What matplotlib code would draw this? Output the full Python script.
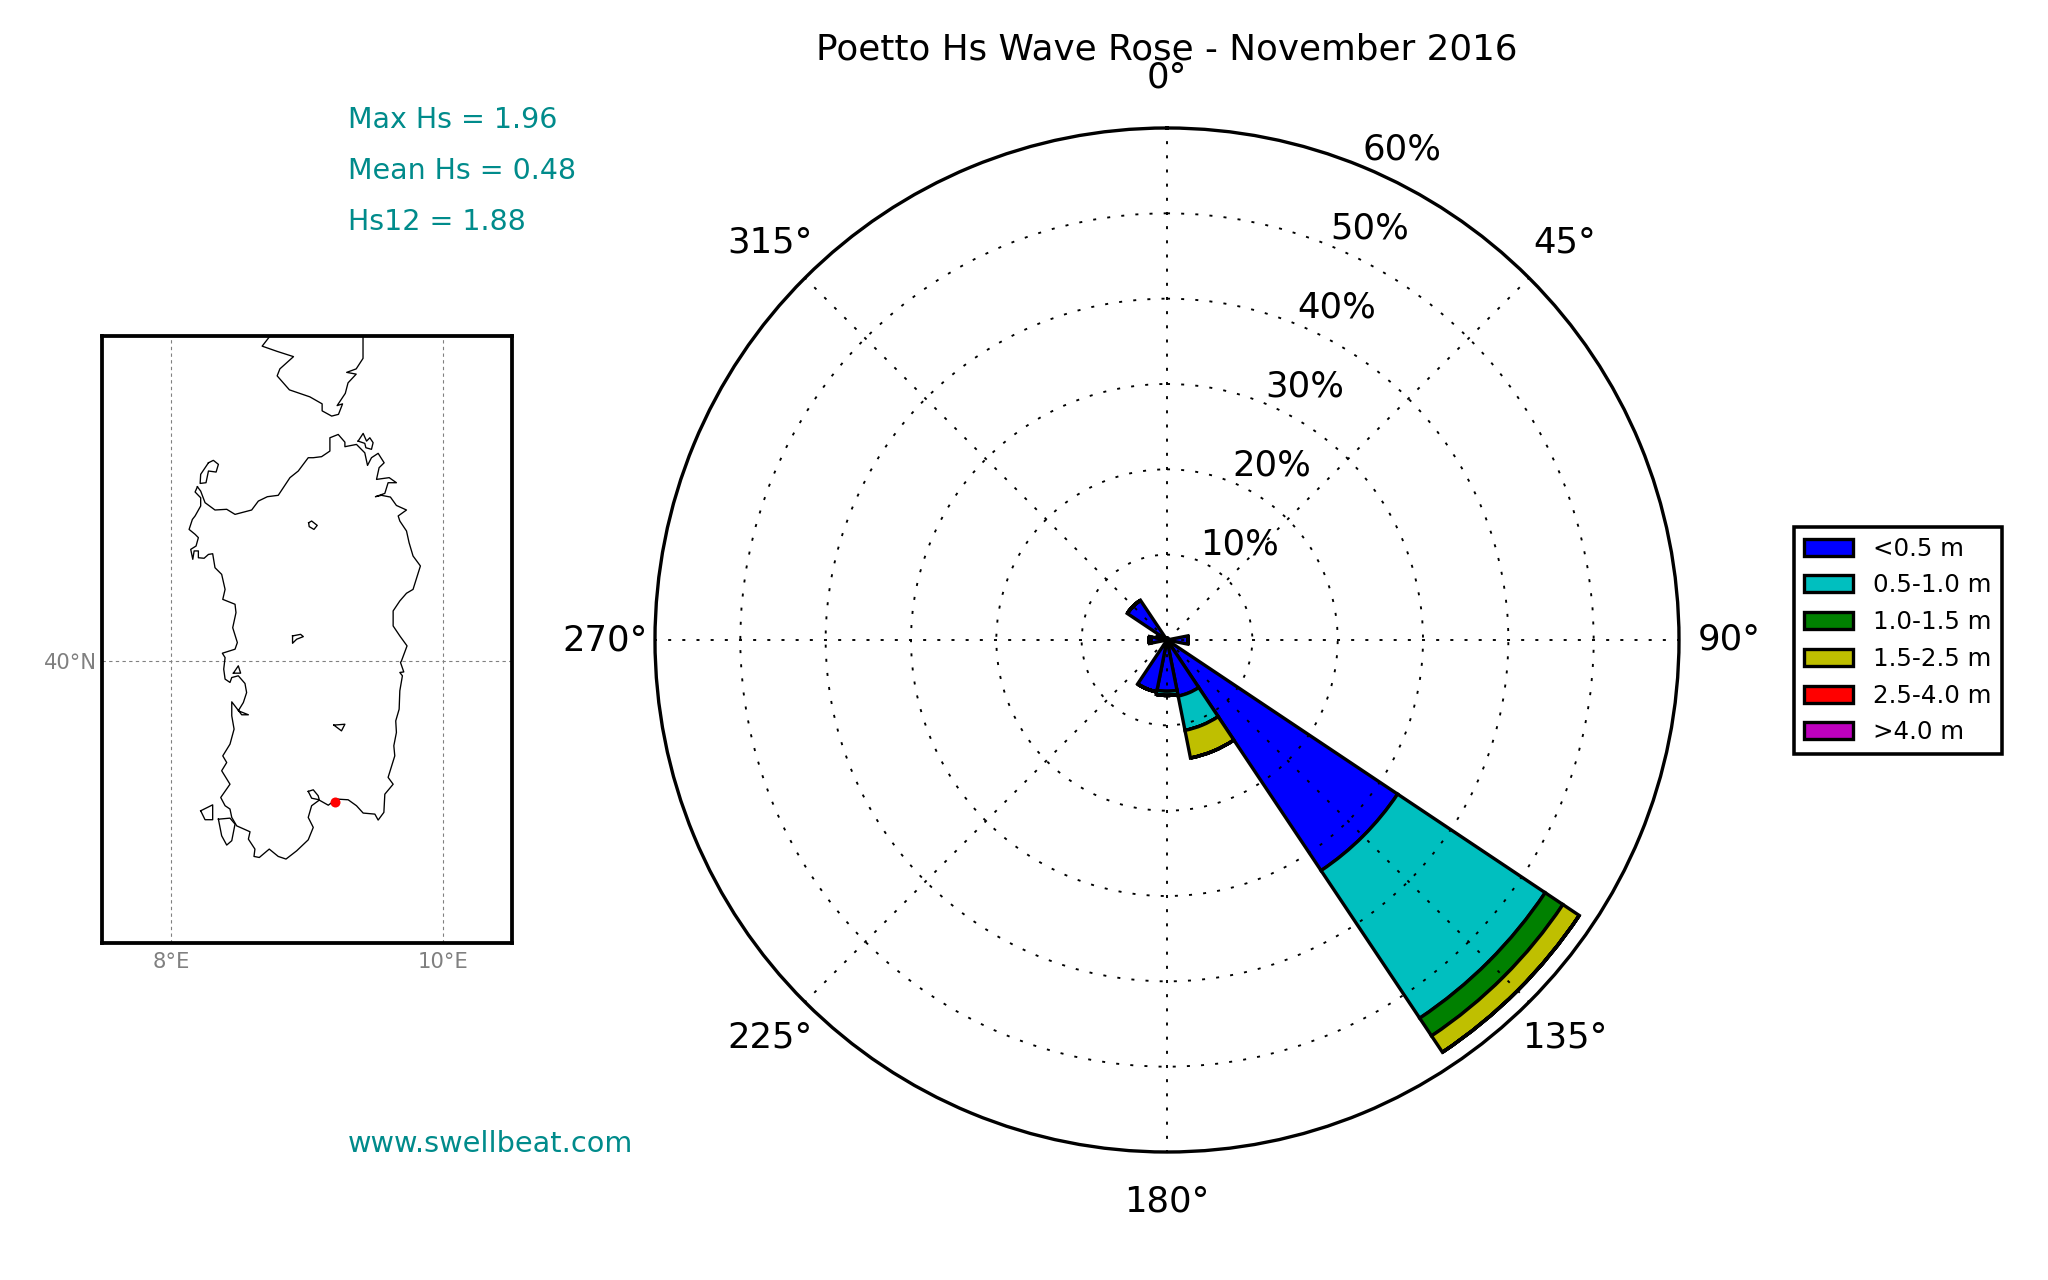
import numpy as np
import matplotlib
matplotlib.use("Agg")
from matplotlib import pyplot as plt

# wave rose, % of time per direction bin
directions = [0, 22.5, 45, 67.5, 90, 112.5, 135, 157.5, 180, 202.5, 225, 247.5, 270, 292.5, 315, 337.5]
hs_labels = ["<0.5 m", "0.5-1.0 m", "1.0-1.5 m", "1.5-2.5 m", "2.5-4.0 m", ">4.0 m"]
hs_colors = ["#0000ff", "#00bfbf", "#008000", "#bfbf00", "#ff0000", "#bf00bf"]
hs_lt05 = [0.2, 0.2, 0.1, 0.2, 2.5, 0.3, 32.5, 6.7, 6.0, 6.2, 0.2, 0.2, 1.9, 1.2, 5.6, 0.2]
hs_05_10 = [0, 0, 0, 0, 0, 0, 20.8, 4.1, 0.5, 0, 0, 0, 0.2, 0, 0, 0]
hs_10_15 = [0, 0, 0, 0, 0, 0, 2.5, 0, 0, 0, 0, 0, 0, 0, 0, 0]
hs_15_25 = [0, 0, 0, 0, 0, 0, 2.3, 3.3, 0, 0, 0, 0, 0, 0, 0, 0]
hs_25_40 = [0] * 16
hs_gt40 = [0] * 16

r_ticks = [10, 20, 30, 40, 50, 60]
stats = ["Max Hs = 1.96", "Mean Hs = 0.48", "Hs12 = 1.88"]

sardinia_lon = [8.195, 8.178, 8.219, 8.219, 8.178, 8.158, 8.134, 8.178, 8.202, 8.185, 8.146, 8.161, 8.171, 8.202, 8.202, 8.244, 8.276, 8.307, 8.324, 8.373, 8.398, 8.381, 8.471, 8.478, 8.454, 8.488, 8.471, 8.378, 8.398,
                8.388, 8.398, 8.434, 8.447, 8.495, 8.544, 8.556, 8.532, 8.495, 8.569, 8.520, 8.488, 8.447, 8.447, 8.464, 8.434, 8.381, 8.410, 8.373, 8.434, 8.366, 8.398, 8.434, 8.447, 8.483, 8.581, 8.569, 8.617, 8.610, 8.649, 8.722, 8.788, 8.845, 8.923, 9.008, 9.045, 9.008, 9.033, 9.089, 9.155, 9.216, 9.301, 9.362, 9.411, 9.497, 9.521, 9.563, 9.570, 9.631, 9.594, 9.643, 9.636, 9.655, 9.650, 9.675, 9.680, 9.699, 9.680, 9.709, 9.685,
                9.692, 9.733, 9.680, 9.631, 9.631, 9.680, 9.729, 9.777, 9.831, 9.777, 9.748, 9.729, 9.680, 9.668, 9.729, 9.655, 9.611, 9.545, 9.501, 9.570, 9.594, 9.655, 9.602, 9.509, 9.528, 9.565, 9.521, 9.472, 9.443, 9.423, 9.362, 9.277, 9.277, 9.228, 9.167, 9.167, 9.106, 9.045, 9.008, 8.935, 8.874, 8.788, 8.708, 8.642, 8.593, 8.471, 8.410, 8.324, 8.251, 8.219, 8.195]
sardinia_lat = [40.996, 40.966, 40.933, 40.886, 40.829, 40.809, 40.752, 40.724, 40.705, 40.657, 40.638, 40.581, 40.629, 40.629, 40.590, 40.587, 40.609, 40.613, 40.533, 40.495, 40.409, 40.352, 40.324, 40.276, 40.190, 40.105, 40.067, 40.044, 40.019,
                39.953, 39.896, 39.877, 39.905, 39.915, 39.871, 39.819, 39.762, 39.715, 39.692, 39.692, 39.724, 39.766, 39.686, 39.610, 39.524, 39.457, 39.419, 39.372, 39.295, 39.219, 39.172, 39.153, 39.105, 39.057, 39.023, 38.981, 38.924, 38.882, 38.876, 38.924, 38.882, 38.867, 38.914, 38.977, 39.048, 39.105, 39.172, 39.204, 39.175, 39.210, 39.206, 39.172, 39.130, 39.124, 39.090, 39.134, 39.238, 39.295, 39.334, 39.457, 39.515, 39.591, 39.657, 39.724, 39.829, 39.915, 39.934, 39.937, 39.991,
                40.000, 40.086, 40.143, 40.200, 40.286, 40.343, 40.387, 40.409, 40.543, 40.600, 40.676, 40.743, 40.800, 40.829, 40.863, 40.889, 40.937, 40.947, 40.939, 40.958, 41.019, 41.019, 41.048, 41.038, 41.105, 41.133, 41.187, 41.162, 41.118, 41.190, 41.238, 41.225, 41.251, 41.295, 41.276, 41.200, 41.168, 41.162, 41.162, 41.086, 41.048, 40.947, 40.939, 40.914, 40.863, 40.838, 40.867, 40.863, 40.905, 40.971, 40.996]
corsica_lon = [8.73, 8.67, 8.78, 8.90, 8.80, 8.78, 8.87, 9.02, 9.11, 9.11, 9.18, 9.23, 9.26, 9.22, 9.28, 9.30, 9.36, 9.29, 9.36, 9.41, 9.41]
corsica_lat = [41.86, 41.80, 41.77, 41.74, 41.67, 41.63, 41.55, 41.51, 41.47, 41.43, 41.40, 41.41, 41.47, 41.46, 41.53, 41.59, 41.64, 41.65, 41.67, 41.73, 41.86]
islands = [
    ([8.276, 8.312, 8.349, 8.332, 8.276, 8.258, 8.215, 8.219, 8.276], [41.133, 41.147, 41.124, 41.080, 41.086, 41.019, 41.015, 41.067, 41.133]),
    ([9.374, 9.411, 9.436, 9.460, 9.484, 9.472, 9.431, 9.423, 9.374], [41.257, 41.301, 41.257, 41.276, 41.248, 41.210, 41.219, 41.244, 41.257]),
    ([9.011, 9.033, 9.074, 9.050, 9.015, 9.011], [40.790, 40.800, 40.775, 40.752, 40.768, 40.790]),
    ([8.893, 8.952, 8.972, 8.923, 8.893, 8.893], [40.143, 40.152, 40.139, 40.124, 40.101, 40.143]),
    ([8.459, 8.495, 8.512, 8.459], [39.930, 39.972, 39.930, 39.930]),
    ([9.196, 9.277, 9.252, 9.196], [39.633, 39.638, 39.600, 39.633]),
    ([9.008, 9.045, 9.081, 9.089, 9.033, 9.008], [39.254, 39.263, 39.229, 39.206, 39.215, 39.254]),
    ([8.219, 8.307, 8.307, 8.251, 8.219], [39.143, 39.177, 39.092, 39.092, 39.143]),
    ([8.349, 8.434, 8.471, 8.447, 8.410, 8.373, 8.349], [39.095, 39.101, 39.067, 38.972, 38.947, 39.000, 39.095]),
]
station_lon = 9.206
station_lat = 39.191

W, H = 2048.0, 1280.0
fig = plt.figure(figsize=(12.8, 8), dpi=160, facecolor="w")
teal = "#008b8b"

# rose
ax = fig.add_axes([655 / W, (H - 640 - 512) / H, 1024 / W, 1024 / H], polar=True)
ax.set_theta_zero_location("N")
ax.set_theta_direction(-1)
ax.set_axisbelow(False)

theta = np.radians(directions)
bottom = np.zeros(len(directions))
series = [hs_lt05, hs_05_10, hs_10_15, hs_15_25, hs_25_40, hs_gt40]
for vals, col, lab in zip(series, hs_colors, hs_labels):
    ax.bar(theta, vals, width=np.radians(22.5), bottom=bottom, color=col,
           edgecolor="k", linewidth=1.5, label=lab)
    bottom = bottom + np.array(vals)

ax.set_rlim(0, 60)
ax.set_thetagrids(range(0, 360, 45), ["%d°" % a for a in range(0, 360, 45)], fontsize=16)
ax.tick_params(axis="x", pad=12)
ax.set_yticks(r_ticks)
ax.set_yticklabels([])
for r in r_ticks:
    ax.text(np.radians(22.5), r, "%d%%" % r, fontsize=16, ha="left", va="bottom")
ax.grid(True, color="k", linestyle=(0, (1.6, 5.9)), linewidth=0.85)
ax.spines["polar"].set_linewidth(1.5)
ax.set_title("Poetto Hs Wave Rose - November 2016", fontsize=16.1, y=1.067, pad=0)

leg = ax.legend(loc="upper left", bbox_to_anchor=(1794 / W, 1 - 527 / H), bbox_transform=fig.transFigure,
                fontsize=11, fancybox=False, framealpha=1, edgecolor="k", borderaxespad=0,
                handlelength=2, handletextpad=0.85, labelspacing=0.52, borderpad=0.4)
leg.get_frame().set_linewidth(1.6)

# location map
m = fig.add_axes([102 / W, (H - 943) / H, 410 / W, 607 / H])
m.plot(sardinia_lon, sardinia_lat, "k", lw=0.6)
m.plot(corsica_lon, corsica_lat, "k", lw=0.6)
for lo, la in islands:
    m.plot(lo, la, "k", lw=0.6)
m.plot(station_lon, station_lat, "o", color="r", ms=4.5, mec="r", mew=0)
m.set_xlim(7.495, 10.503)
m.set_ylim(38.387, 41.858)
m.set_xticks([8, 10])
m.set_xticklabels(["8°E", "10°E"], color="gray", fontsize=9.5)
m.set_yticks([40])
m.set_yticklabels(["40°N"], color="gray", fontsize=9.5)
m.tick_params(axis="x", length=0, pad=4)
m.tick_params(axis="y", length=0, pad=2)
m.grid(True, color="gray", linestyle=(0, (3, 3)), linewidth=0.5)
for s in m.spines.values():
    s.set_linewidth(1.7)

for i, t in enumerate(stats):
    fig.text(348 / W, 1 - (120 + i * 51) / H, t, color=teal, fontsize=12.85, ha="left", va="center")
fig.text(348 / W, 1 - 1144 / H, "www.swellbeat.com", color=teal, fontsize=12.95, ha="left", va="center")

fig.savefig("out.png", dpi=160)
